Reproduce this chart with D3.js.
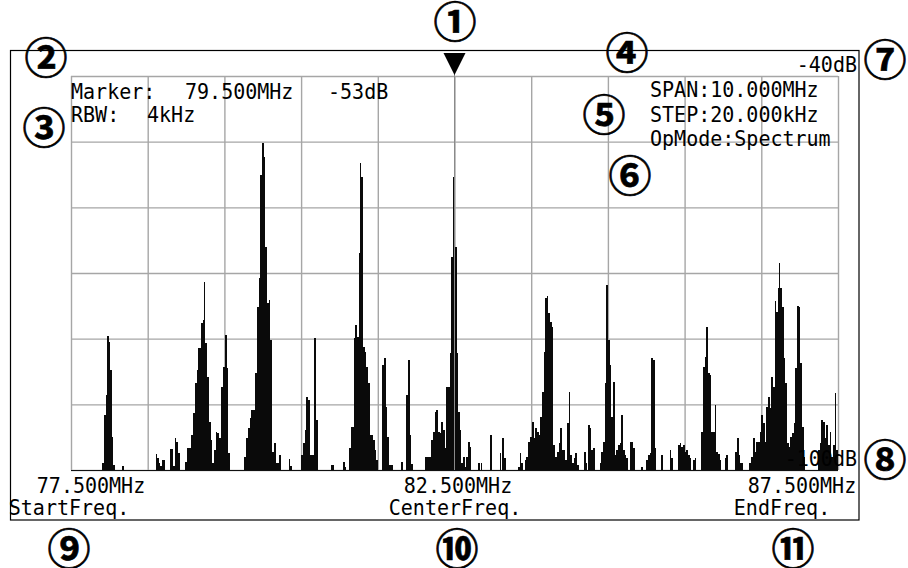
<!DOCTYPE html>
<html><head><meta charset="utf-8">
<script src="https://cdn.jsdelivr.net/npm/d3@7"></script>
<style>
html,body{margin:0;padding:0;background:#fff;}
svg{display:block;}
.mono{font-family:"DejaVu Sans Mono",monospace;font-size:22px;fill:#000;}
.circ{font-family:"Noto Sans CJK JP","Noto Sans CJK SC",sans-serif;font-weight:700;font-size:43px;fill:#000;stroke:#000;stroke-width:0.7;}
</style></head>
<body>
<script>
// ---- data ----
const startFreq = 77.5, endFreq = 87.5;          // MHz
const refLevel = -40, floorLevel = -100;         // dB
const gridFreqs = [77.5,78.5,79.5,80.5,81.5,82.5,83.5,84.5,85.5,86.5,87.5];
const gridDb = [-40,-50,-60,-70,-80,-90,-100];
const markerFreq = 82.5;

// spectrum trace: step start frequency (MHz) and level (dB)
const specFreq = [
77.908,77.930,77.952,77.973,77.992,78.012,78.031,78.052,78.070,78.169,78.187,
78.604,78.625,78.643,78.664,78.686,78.729,78.787,78.830,78.852,78.873,78.895,78.917,
78.990,79.012,79.068,79.091,79.113,79.139,79.156,79.191,79.217,79.234,79.251,79.273,
79.299,79.321,79.342,79.364,79.387,79.407,79.430,79.460,79.486,79.504,79.530,79.547,79.569,
79.752,79.778,79.808,79.830,79.851,79.895,79.921,79.947,79.968,79.990,80.012,80.033,
80.055,80.078,80.098,80.121,80.147,80.169,80.212,80.234,80.338,80.359,80.381,
80.503,80.525,80.547,80.568,80.590,80.620,80.668,80.698,80.720,
80.886,80.929,81.046,81.068,81.089,81.121,81.154,81.186,81.207,81.229,81.251,81.272,
81.285,81.307,81.329,81.350,81.372,81.394,81.437,81.460,81.481,81.503,
81.555,81.581,81.603,81.624,81.650,81.698,81.806,81.829,81.872,81.894,81.916,81.937,81.959,
82.111,82.198,82.220,82.242,82.263,82.285,82.307,82.328,82.350,82.372,82.393,82.437,
82.458,82.481,82.507,82.529,82.550,82.568,82.589,82.611,82.633,82.654,82.676,82.698,82.719,
82.806,82.829,82.842,82.863,82.967,82.993,83.089,83.110,83.123,83.145,83.168,
83.328,83.350,83.371,83.393,83.415,83.436,83.458,83.480,83.511,83.533,83.554,83.576,
83.598,83.619,83.641,83.663,83.684,83.706,83.723,83.745,83.767,83.788,83.810,83.833,
83.859,83.879,83.902,83.945,83.967,83.989,84.010,84.032,84.054,84.075,84.097,84.119,
84.189,84.211,84.231,84.240,84.263,84.284,84.306,84.328,84.393,84.414,84.436,84.458,
84.479,84.501,84.524,84.544,84.567,84.589,84.610,84.632,84.654,84.675,84.697,84.719,
84.740,84.762,84.784,84.827,84.849,84.936,84.958,85.001,85.023,85.045,85.066,85.088,
85.110,85.131,85.196,85.218,85.306,85.327,85.349,85.414,85.436,85.457,85.479,85.501,
85.522,85.544,85.567,85.587,85.610,85.632,85.653,85.718,85.740,85.762,85.783,85.805,
85.827,85.848,85.893,85.913,85.936,85.958,85.979,86.023,86.044,86.066,86.161,86.183,
86.205,86.226,86.262,86.340,86.370,86.392,86.414,86.435,86.479,86.500,86.522,86.544,
86.565,86.587,86.610,86.631,86.653,86.675,86.696,86.718,86.735,86.748,86.770,86.792,
86.813,86.835,86.857,86.878,86.900,86.923,86.943,86.965,86.988,87.009,87.031,87.053,
87.074,87.239,87.261,87.282,87.305,87.327,87.348,87.370,87.392,87.413,87.435,87.457,87.478
];
const specDb = [
-98.9,-91.6,-88.6,-79.6,-80.5,-84.8,-95.0,-99.2,-100,-99.4,-100,
-97.6,-98.2,-98.9,-99.4,-98.5,-100,-96.8,-99.4,-95.1,-95.7,-97.4,-100,
-98.8,-96.6,-94.7,-91.3,-86.8,-84.8,-81.4,-77.6,-77.2,-71.4,-80.7,-85.8,
-92.7,-95.4,-98.9,-97.0,-94.2,-94.4,-95.1,-87.4,-84.3,-79.4,-84.5,-97.4,-100,
-98.0,-95.1,-93.6,-92.1,-90.9,-85.2,-75.2,-70.8,-55.1,-50.2,-52.3,-66.0,
-74.6,-74.1,-80.2,-97.3,-95.9,-98.9,-97.7,-100,-98.3,-99.4,-100,
-97.7,-95.9,-93.9,-88.9,-89.3,-97.7,-79.9,-92.4,-100,
-99.2,-100,-98.8,-99.5,-100,-96.6,-93.5,-79.9,-77.9,-79.7,-67.0,-53.2,
-55.4,-81.3,-82.0,-84.3,-86.8,-94.7,-95.4,-97.0,-98.5,-100,
-84.0,-82.9,-90.4,-95.0,-99.2,-100,-98.8,-100,-88.6,-83.2,-94.7,-99.1,-100,
-98.0,-95.4,-94.2,-91.2,-90.9,-94.2,-94.4,-92.7,-93.9,-96.6,-87.4,-82.2,
-67.6,-55.4,-66.0,-82.2,-91.2,-93.9,-98.9,-98.0,-99.5,-98.0,-95.7,-96.5,-100,
-98.9,-100,-98.9,-100,-94.7,-100,-97.4,-100,-95.1,-98.2,-100,
-99.5,-97.4,-98.9,-100,-98.5,-98.0,-95.7,-95.0,-92.7,-95.1,-93.6,-94.2,
-94.7,-91.9,-88.1,-82.0,-73.8,-73.5,-76.1,-77.5,-78.2,-96.2,-98.0,-97.3,
-95.9,-93.6,-97.0,-98.5,-92.8,-88.1,-97.7,-98.9,-98.2,-97.4,-99.2,-100,
-97.3,-98.9,-100,-93.1,-93.6,-97.0,-96.6,-100,-98.9,-97.3,-95.7,-86.8,
-71.8,-80.2,-84.0,-91.9,-86.6,-97.7,-97.0,-96.2,-95.9,-91.6,-97.0,-97.7,
-98.2,-100,-95.7,-96.6,-100,-99.5,-100,-98.5,-97.7,-97.4,-82.9,-83.2,
-96.6,-100,-97.7,-100,-97.0,-98.2,-100,-96.2,-95.9,-96.5,-96.2,-97.3,
-97.0,-97.7,-98.2,-100,-98.5,-98.2,-100,-94.2,-84.3,-82.8,-78.2,-85.2,
-85.5,-94.2,-90.1,-97.3,-97.5,-98.5,-100,-98.2,-97.7,-100,-97.3,-95.1,
-97.7,-98.9,-100,-98.9,-98.0,-95.1,-97.3,-95.7,-94.2,-91.6,-92.8,-95.7,
-90.4,-88.9,-90.6,-85.8,-87.4,-74.3,-75.9,-72.3,-68.5,-72.3,-75.2,-82.9,
-86.8,-95.9,-96.5,-95.0,-94.4,-92.8,-84.5,-75.0,-75.2,-83.7,-93.5,-98.0,
-100,-97.0,-95.9,-92.4,-92.7,-95.1,-93.1,-96.2,-94.2,-98.0,-96.2,-88.3,-97.0
];

// texts
const headerLeft = [["Marker:",71,99],["79.500MHz",185,99],["-53dB",328,99],["RBW:",71,122],["4kHz",147,122]];
const headerRight = [["SPAN:10.000MHz",650,97],["STEP:20.000kHz",650,122],["OpMode:Spectrum",650,146]];
const levelLabels = [["-40dB",857,72],["-100dB",857,466]];
const freqLabels = [["77.500MHz",91,493],["82.500MHz",458,493],["87.500MHz",802,493]];
const freqNames = [["StartFreq.",69,515],["CenterFreq.",455,515],["EndFreq.",782,515]];
const callouts = [["①",455,19],["②",46,55],["③",44,125],["④",627,50],["⑤",604,112],["⑥",630,173],
  ["⑦",885,57],["⑧",885,457],["⑨",69,546],["⑩",457,546],["⑪",793,546]];

// ---- drawing ----
const W = 908, H = 568;
const svg = d3.select("body").append("svg").attr("width",W).attr("height",H);
svg.append("rect").attr("width",W).attr("height",H).attr("fill","#fff");

const x = d3.scaleLinear().domain([startFreq,endFreq]).range([71,838]);
const y = d3.scaleLinear().domain([floorLevel,refLevel]).range([470,76]);

// outer frame
svg.append("rect").attr("x",10.5).attr("y",50.5).attr("width",848.5).attr("height",469.5)
  .attr("fill","none").attr("stroke","#000").attr("stroke-width",1.2);

// grid
const gx = svg.append("g").attr("transform",`translate(0,${y(floorLevel)})`)
  .call(d3.axisBottom(x).tickValues(gridFreqs).tickSize(-(y(floorLevel)-y(refLevel))).tickFormat(""));
const gy = svg.append("g").attr("transform",`translate(${x(startFreq)},0)`)
  .call(d3.axisLeft(y).tickValues(gridDb).tickSize(-(x(endFreq)-x(startFreq))).tickFormat(""));
[gx,gy].forEach(g=>{
  g.select(".domain").remove();
  g.selectAll(".tick line").attr("stroke","#a6a6a6").attr("stroke-width",1.4);
});

// spectrum
const pts = [[startFreq,floorLevel]].concat(specFreq.map((f,i)=>[f,specDb[i]]), [[endFreq,floorLevel]]);
svg.append("path").datum(pts)
  .attr("d", d3.area().curve(d3.curveStepAfter).x(d=>x(d[0])).y0(y(floorLevel)).y1(d=>y(d[1])))
  .attr("fill","#0a0a0a").attr("shape-rendering","crispEdges");

// baseline
svg.append("line").attr("x1",x(startFreq)).attr("x2",x(endFreq)).attr("y1",y(floorLevel)+0.5).attr("y2",y(floorLevel)+0.5)
  .attr("stroke","#111").attr("stroke-width",1.2);

// marker
const mx = x(markerFreq);
svg.append("line").attr("x1",mx).attr("x2",mx).attr("y1",74).attr("y2",y(floorLevel))
  .attr("stroke","#8a8a8a").attr("stroke-width",1);
svg.append("path").attr("d",`M${mx-11},53 L${mx+11},53 L${mx},75 Z`).attr("fill","#000");

// texts
function monoText(arr, anchor){
  arr.forEach(([t,tx,ty])=>{
    svg.append("text").attr("class","mono").attr("text-anchor",anchor)
      .attr("transform",`translate(${tx},${ty}) scale(0.91,1)`).text(t);
  });
}
monoText(headerLeft,"start");
monoText(headerRight,"start");
monoText(levelLabels,"end");
monoText(freqLabels,"middle");
monoText(freqNames,"middle");

callouts.forEach(([t,cx,cy])=>{
  svg.append("text").attr("class","circ").attr("x",cx).attr("y",cy)
    .attr("text-anchor","middle").attr("dominant-baseline","central").text(t);
});
</script>
</body></html>
